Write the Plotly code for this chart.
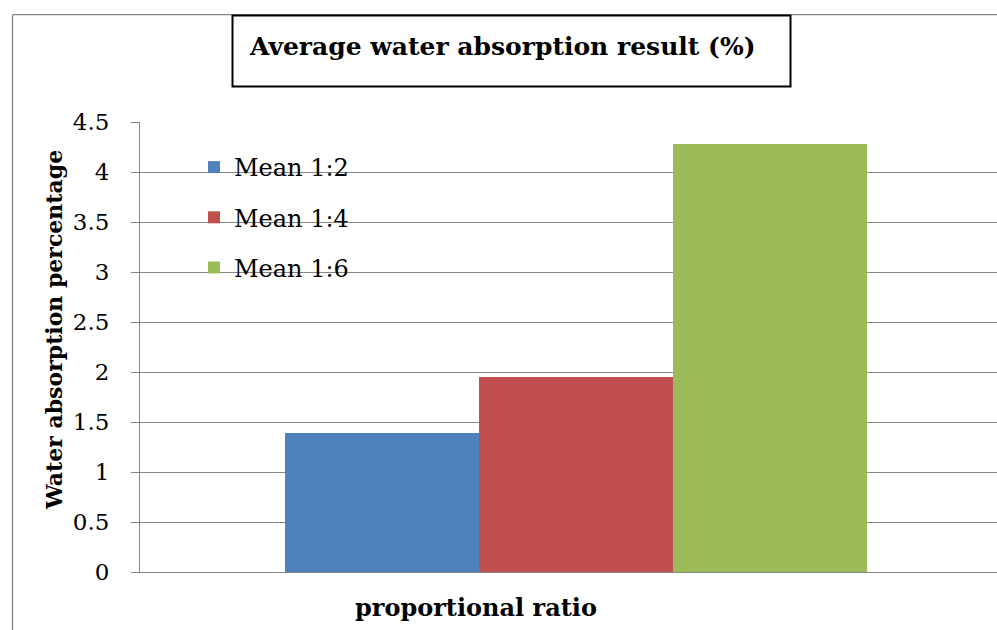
import plotly.graph_objects as go

# Mean water absorption (%) for each mix proportion
series_names = ["Mean 1:2", "Mean 1:4", "Mean 1:6"]
series_values = [1.39, 1.95, 4.28]
series_colors = ["#4F81BD", "#C0504D", "#9BBB59"]
group_label = ["proportional ratio"]
y_tick_values = [0, 0.5, 1, 1.5, 2, 2.5, 3, 3.5, 4, 4.5]

chart_title = "Average water absorption result (%)"
x_title = "proportional ratio"
y_title = "Water absorption percentage"

W, H = 997, 630
ML, MR, MT, MB = 140, 0, 122, 58
PW, PH = W - ML - MR, H - MT - MB


def px_x(p):
    return (p - ML) / PW


def px_y(p):
    return (H - MB - p) / PH


FONT = "DejaVu Serif"
GRID = "#868686"

fig = go.Figure()
for name, val, col in zip(series_names, series_values, series_colors):
    fig.add_trace(go.Bar(
        x=group_label, y=[val], name=name, marker_color=col,
        marker_line_width=0, legendgroup=name,
    ))

fig.update_layout(
    width=W, height=H,
    margin=dict(l=ML, r=MR, t=MT, b=MB, pad=0),
    paper_bgcolor="white", plot_bgcolor="white",
    barmode="group", bargap=0.3326, bargroupgap=0,
    font=dict(family=FONT, color="black"),
    showlegend=True,
    legend=dict(
        x=px_x(194), y=px_y(145), xanchor="left", yanchor="top",
        bgcolor="rgba(0,0,0,0)", borderwidth=0,
        font=dict(family=FONT, size=24, color="black"),
        traceorder="grouped", tracegroupgap=16,
    ),
)

fig.update_xaxes(
    type="category", range=[-0.5, PW / 872 - 0.5],
    showticklabels=False, ticks="", showgrid=False,
    showline=True, linecolor=GRID, linewidth=1, zeroline=False,
)
fig.update_yaxes(
    range=[0, 4.5], tickmode="array", tickvals=y_tick_values,
    ticks="outside", ticklen=8, tickcolor=GRID, tickwidth=1,
    showgrid=True, gridcolor=GRID, gridwidth=1,
    showline=True, linecolor=GRID, linewidth=1, zeroline=False,
    tickfont=dict(family=FONT, size=23, color="black"),
    ticklabelstandoff=17,
)

# outer chart border (left and top edges)
fig.add_shape(type="line", xref="paper", yref="paper",
              x0=px_x(12.5), x1=px_x(12.5), y0=px_y(H + 5), y1=px_y(14.7),
              line=dict(color=GRID, width=1.3))
fig.add_shape(type="line", xref="paper", yref="paper",
              x0=px_x(12.5), x1=px_x(W + 5), y0=px_y(14.7), y1=px_y(14.7),
              line=dict(color=GRID, width=1.3))
# boxed chart title
fig.add_shape(type="rect", xref="paper", yref="paper",
              x0=px_x(232.5), x1=px_x(790.5), y0=px_y(15.5), y1=px_y(86.5),
              line=dict(color="black", width=2), fillcolor="white")

fig.add_annotation(text="<b>%s</b>" % chart_title, xref="paper", yref="paper",
                   x=px_x(502), y=px_y(46), xanchor="center", yanchor="middle",
                   showarrow=False, font=dict(family=FONT, size=25, color="black"))
fig.add_annotation(text="<b>%s</b>" % x_title, xref="paper", yref="paper",
                   x=px_x(476), y=px_y(607), xanchor="center", yanchor="middle",
                   showarrow=False, font=dict(family=FONT, size=24, color="black"))
fig.add_annotation(text="<b>%s</b>" % y_title, xref="paper", yref="paper",
                   x=px_x(54), y=px_y(330), xanchor="center", yanchor="middle",
                   textangle=-90, showarrow=False,
                   font=dict(family=FONT, size=22, color="black"))

fig.write_html("out.html")
